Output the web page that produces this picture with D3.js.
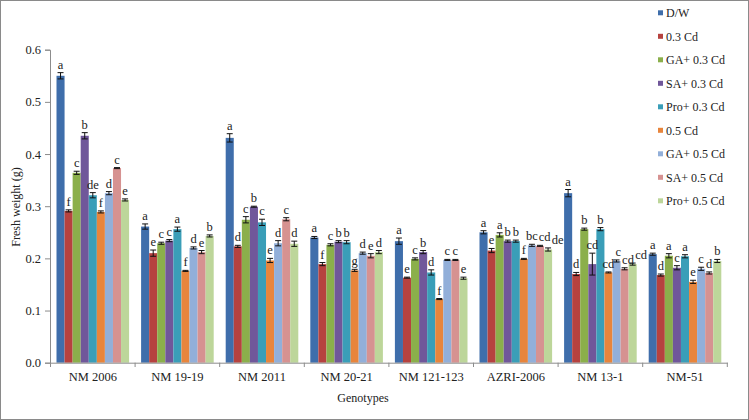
<!DOCTYPE html>
<html><head><meta charset="utf-8">
<script src="https://cdnjs.cloudflare.com/ajax/libs/d3/7.8.5/d3.min.js"></script>
<style>body{margin:0;background:#fff}svg{display:block}svg text{font-family:'Liberation Serif','Times New Roman','DejaVu Serif',serif !important;fill:#222}</style>
</head><body><svg id="c" width="749" height="420"></svg>
<script>
const genotypes = ["NM 2006","NM 19-19","NM 2011","NM 20-21","NM 121-123","AZRI-2006","NM 13-1","NM-51"];
const series = ["D/W","0.3 Cd","GA+ 0.3 Cd","SA+ 0.3 Cd","Pro+ 0.3 Cd","0.5 Cd","GA+ 0.5 Cd","SA+ 0.5 Cd","Pro+ 0.5 Cd"];
const colors = ["#3F6EAB","#B6423F","#8BAF4B","#70579A","#3A9EB8","#E8853C","#92AFD9","#D69291","#BDD69A"];
// values per series, one entry per genotype
const vDW    = [0.550,0.261,0.431,0.240,0.233,0.250,0.325,0.208];
const v03    = [0.291,0.210,0.223,0.189,0.163,0.215,0.170,0.168];
const vGA03  = [0.364,0.229,0.274,0.226,0.199,0.245,0.256,0.205];
const vSA03  = [0.435,0.234,0.299,0.232,0.212,0.233,0.189,0.182];
const vPro03 = [0.321,0.256,0.269,0.231,0.173,0.233,0.256,0.204];
const v05    = [0.289,0.176,0.196,0.177,0.122,0.199,0.173,0.155];
const vGA05  = [0.325,0.220,0.229,0.210,0.197,0.225,0.195,0.180];
const vSA05  = [0.373,0.212,0.275,0.205,0.197,0.224,0.180,0.172];
const vPro05 = [0.312,0.243,0.228,0.212,0.162,0.217,0.189,0.195];
// standard errors
const eDW    = [0.006,0.005,0.008,0.002,0.006,0.003,0.007,0.002];
const e03    = [0.002,0.006,0.002,0.003,0.001,0.004,0.003,0.002];
const eGA03  = [0.003,0.002,0.006,0.002,0.002,0.004,0.002,0.004];
const eSA03  = [0.006,0.002,0.001,0.002,0.003,0.002,0.021,0.004];
const ePro03 = [0.005,0.004,0.006,0.003,0.005,0.002,0.003,0.003];
const e05    = [0.002,0.001,0.004,0.002,0.001,0.001,0.001,0.003];
const eGA05  = [0.003,0.002,0.005,0.002,0.001,0.002,0.002,0.003];
const eSA05  = [0.001,0.003,0.003,0.004,0.001,0.001,0.002,0.002];
const ePro05 = [0.002,0.002,0.005,0.003,0.002,0.003,0.002,0.003];
// significance letters
const lDW    = ["a","a","a","a","a","a","a","a"];
const l03    = ["f","e","d","f","e","e","d","d"];
const lGA03  = ["c","c","c","c","c","a","b","a"];
const lSA03  = ["b","c","b","b","b","b","cd","c"];
const lPro03 = ["de","a","c","b","d","b","b","a"];
const l05    = ["f","f","e","g","f","f","cd","e"];
const lGA05  = ["d","d","d","d","c","bc","c","c"];
const lSA05  = ["c","e","c","e","c","cd","cd","d"];
const lPro05 = ["e","b","d","d","e","de","cd","b"];
const yTicks = [0,0.1,0.2,0.3,0.4,0.5,0.6];

const vals = [vDW,v03,vGA03,vSA03,vPro03,v05,vGA05,vSA05,vPro05];
const errs = [eDW,e03,eGA03,eSA03,ePro03,e05,eGA05,eSA05,ePro05];
const lets = [lDW,l03,lGA03,lSA03,lPro03,l05,lGA05,lSA05,lPro05];
const data = [];
genotypes.forEach((g,gi)=>series.forEach((s,si)=>data.push({g,s,si,v:vals[si][gi],e:errs[si][gi],l:lets[si][gi]})));

const FONT = "'Liberation Serif','Times New Roman',serif";
const svg = d3.select("#c");
svg.append("rect").attr("x",0.5).attr("y",0.5).attr("width",748).attr("height",419).attr("fill","#fff").attr("stroke","#8a8a8a");

const y = d3.scaleLinear().domain([0,0.6]).range([362.7,49.7]);
const x0 = d3.scaleBand().domain(genotypes).range([50.5,727.3]).padding(0);
const bw = x0.bandwidth();
const x1 = d3.scaleBand().domain(series).range([6,bw-6]).padding(0);
const color = d3.scaleOrdinal().domain(series).range(colors);
const cx = d=>x0(d.g)+x1(d.s)+x1.bandwidth()/2;

// y axis
const ya = svg.append("g").attr("transform","translate(50,0)")
  .call(d3.axisLeft(y).tickValues(yTicks).tickFormat(d3.format(".1f")).tickSize(5).tickPadding(4));
ya.attr("font-family",FONT);
ya.select(".domain").attr("stroke","#8c8c8c");
ya.selectAll(".tick line").attr("stroke","#8c8c8c");
ya.selectAll("text").attr("font-size",12.5).attr("font-family",FONT).attr("fill","#333");

// bars
const gG = svg.append("g");
gG.selectAll("rect.bar").data(data).join("rect").attr("class","bar")
  .attr("x",d=>x0(d.g)+x1(d.s)).attr("width",x1.bandwidth())
  .attr("y",d=>y(d.v)).attr("height",d=>y(0)-y(d.v)).attr("fill",d=>color(d.s));

// error bars
const eb = gG.selectAll("g.err").data(data).join("g").attr("class","err").attr("stroke","#111");
eb.append("line").attr("x1",cx).attr("x2",cx).attr("y1",d=>y(d.v+d.e)).attr("y2",d=>y(d.v-d.e));
eb.append("line").attr("x1",d=>cx(d)-3).attr("x2",d=>cx(d)+3).attr("y1",d=>y(d.v+d.e)).attr("y2",d=>y(d.v+d.e));
eb.append("line").attr("x1",d=>cx(d)-3).attr("x2",d=>cx(d)+3).attr("y1",d=>y(d.v-d.e)).attr("y2",d=>y(d.v-d.e));

// letters, with simple left-to-right collision avoidance
const lt = gG.selectAll("text.lt").data(data).join("text").attr("class","lt")
  .attr("x",cx).attr("y",d=>y(d.v+d.e)-4)
  .attr("text-anchor","middle").attr("font-size",12.5).attr("font-family",FONT).text(d=>d.l);
let prev = null;
lt.each(function(d){
  const bb = this.getBBox();
  if (prev && prev.g===d.g && bb.x < prev.x2+0.5 && !(bb.y > prev.y2-2 || bb.y+bb.height < prev.y1+2)) {
    const shift = prev.x2+0.5-bb.x;
    d3.select(this).attr("x",cx(d)+shift);
    prev = {g:d.g,x2:bb.x+bb.width+shift,y1:bb.y,y2:bb.y+bb.height};
  } else prev = {g:d.g,x2:bb.x+bb.width,y1:bb.y,y2:bb.y+bb.height};
});

// x axis
const xa = svg.append("g").attr("transform","translate(0,362.7)")
  .call(d3.axisBottom(x0).tickSize(0).tickPadding(9));
xa.attr("font-family",FONT);
xa.select(".domain").attr("stroke","#8c8c8c");
xa.selectAll("text").attr("font-size",12.5).attr("font-family",FONT).attr("fill","#222");
svg.append("g").selectAll("line").data(genotypes.map(g=>x0(g)).concat([x0.range()[1]])).join("line")
  .attr("x1",d=>d).attr("x2",d=>d).attr("y1",362.7).attr("y2",367).attr("stroke","#8c8c8c");

// axis titles
svg.append("text").attr("x",363).attr("y",402).attr("text-anchor","middle").attr("font-size",12).attr("font-family",FONT).text("Genotypes");
svg.append("text").attr("transform","translate(20,207) rotate(-90)").attr("text-anchor","middle").attr("font-size",12).attr("font-family",FONT).text("Fresh  weight (g)");

// legend
const lg = svg.append("g").selectAll("g").data(series).join("g")
  .attr("transform",(d,i)=>`translate(658,${13.3+i*23.5})`);
lg.append("rect").attr("x",0).attr("y",-3).attr("width",5).attr("height",5).attr("fill",d=>color(d));
lg.append("text").attr("x",8).attr("y",4).attr("font-size",12).attr("font-family",FONT).text(d=>d);
</script></body></html>
